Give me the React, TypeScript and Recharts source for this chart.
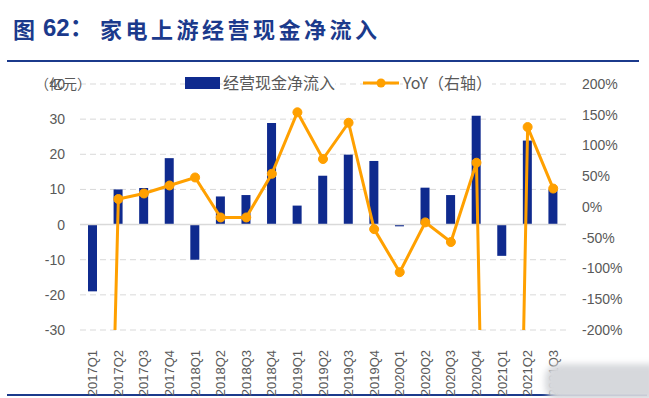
import React from 'react';
import { ComposedChart, Bar, Line, XAxis, YAxis, CartesianGrid, ReferenceLine } from 'recharts';

const categories = ['2017Q1','2017Q2','2017Q3','2017Q4','2018Q1','2018Q2','2018Q3','2018Q4','2019Q1','2019Q2','2019Q3','2019Q4','2020Q1','2020Q2','2020Q3','2020Q4','2021Q1','2021Q2','2021Q3'];
const cashFlow = [-19, 10, 10.4, 18.9, -10, 8, 8.4, 28.9, 5.4, 13.9, 19.9, 18.1, -0.5, 10.5, 8.4, 31, -8.9, 23.9, 10];
const yoy = [-1600, 13, 22, 35, 48, -17, -17, 54, 154, 78, 137, -36, -106, -25, -57, 72, -2000, 130, 30];
const leftTicks = [-30, -20, -10, 0, 10, 20, 30, 40];
const rightTicks = [-200, -150, -100, -50, 0, 50, 100, 150, 200];

const data = categories.map((c, i) => ({ name: c, cash: cashFlow[i], yoy: yoy[i] }));

const BLUE = '#0F2A8E';
const ORANGE = '#FFA000';
const GRAY = '#595959';
const FONT = '"Liberation Sans", Arial, "Noto Sans CJK SC", sans-serif';
const CJK = '"Noto Sans CJK SC", sans-serif';

const XTick = (props: any) => {
  const { x, y, payload } = props;
  return (
    <text x={x} y={y + 12} transform={`rotate(-90 ${x} ${y + 12})`} textAnchor="end" dominantBaseline="central" fill={GRAY} fontSize={13} fontFamily={FONT}>
      {payload.value}
    </text>
  );
};

export default function App() {
  return (
    <div style={{ position: 'absolute', left: 0, top: 0, width: 649, height: 398, background: '#fff', overflow: 'hidden' }}>
      <div style={{ position: 'absolute', left: 13, top: 14, fontFamily: CJK, fontWeight: 700, fontSize: 22, color: '#1B3A8C', whiteSpace: 'nowrap', lineHeight: '28px' }}>
        <span style={{ position: 'absolute', left: 0 }}>图</span>
        <span style={{ position: 'absolute', left: 30, fontFamily: FONT, fontSize: 24 }}>62：</span>
        <span style={{ position: 'absolute', left: 87, letterSpacing: 3.5 }}>家电上游经营现金净流入</span>
      </div>
      <div style={{ position: 'absolute', left: 7, top: 60, width: 632, height: 2, background: '#1B3A8C' }} />
      <div style={{ position: 'absolute', left: 7, top: 394, width: 640, height: 2, background: '#1B3A8C' }} />
      <div style={{ position: 'absolute', left: 0, top: 0 }}>
        <ComposedChart width={649} height={398} data={data} margin={{ top: 84, right: 0, bottom: 0, left: 0 }} barCategoryGap={0}>
          <CartesianGrid yAxisId="left" vertical={false} stroke="#D9D9D9" strokeDasharray="6 4" />
          <XAxis dataKey="name" height={68} axisLine={false} tickLine={false} interval={0} tick={<XTick />} />
          <YAxis yAxisId="left" width={80} domain={[-30, 40]} ticks={leftTicks} axisLine={false} tickLine={false} tickSize={0} tickMargin={15} tick={{ fill: GRAY, fontSize: 14, fontFamily: FONT }} />
          <YAxis yAxisId="right" orientation="right" width={83} domain={[-200, 200]} ticks={rightTicks} allowDataOverflow axisLine={false} tickLine={false} tickSize={0} tickMargin={16} tickFormatter={(v: number) => `${v}%`} tick={{ fill: GRAY, fontSize: 14, fontFamily: FONT, textAnchor: 'start' }} />
          <ReferenceLine yAxisId="left" y={0} stroke="#D9D9D9" strokeWidth={1.5} />
          <Bar yAxisId="left" dataKey="cash" fill={BLUE} barSize={9} isAnimationActive={false} />
          <Line yAxisId="right" dataKey="yoy" stroke={ORANGE} strokeWidth={3} dot={{ r: 4.5, fill: ORANGE, stroke: ORANGE, strokeWidth: 1 }} isAnimationActive={false} />
        </ComposedChart>
      </div>
      <div style={{ position: 'absolute', left: 180, top: 72, width: 380, height: 22, fontFamily: CJK, fontSize: 16, color: GRAY }}>
        <div style={{ position: 'absolute', left: 5, top: 5, width: 35, height: 12, background: BLUE }} />
        <div style={{ position: 'absolute', left: 43, top: -1, lineHeight: '22px', background: '#fff' }}>经营现金净流入</div>
        <svg style={{ position: 'absolute', left: 183, top: 0 }} width={40} height={22}>
          <line x1={0} y1={11} x2={36} y2={11} stroke={ORANGE} strokeWidth={3} />
          <circle cx={18} cy={11} r={4.5} fill={ORANGE} />
        </svg>
        <div style={{ position: 'absolute', left: 223, top: -1, lineHeight: '22px', background: '#fff', whiteSpace: 'nowrap' }}>YoY（右轴）</div>
      </div>
      <div style={{ position: 'absolute', left: 35, top: 72, fontFamily: CJK, fontSize: 14, color: GRAY, lineHeight: '22px' }}>（亿元）</div>
      <div style={{ position: 'absolute', left: 545, top: 364, width: 110, height: 36, background: '#D6D8DC', borderRadius: '14px 0 0 14px', filter: 'blur(3px)' }} />
    </div>
  );
}
